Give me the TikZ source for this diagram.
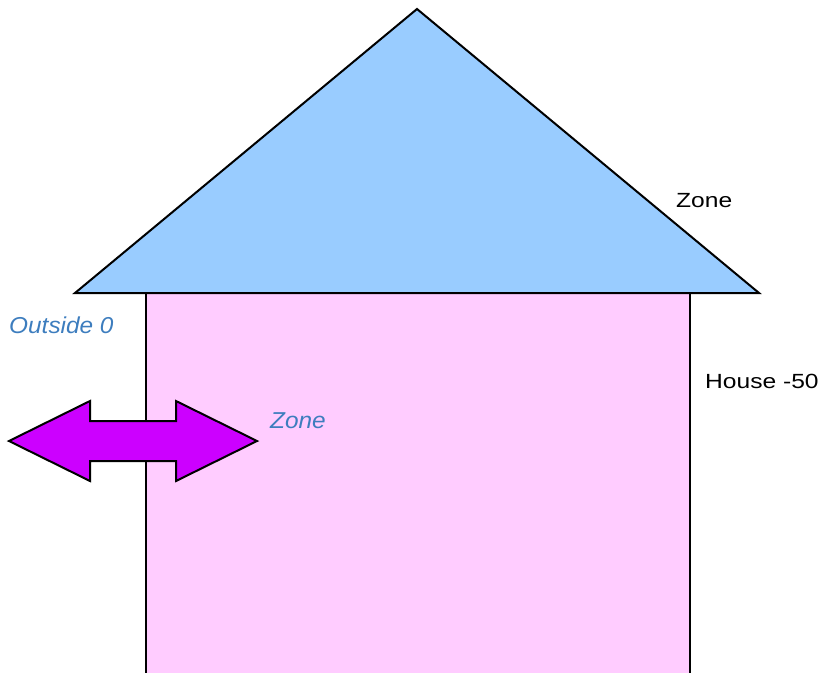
\documentclass[tikz,border=0pt]{standalone}
\usepackage{fontspec}
\setmainfont{Liberation Sans}
\definecolor{roofblue}{RGB}{153,204,255}
\definecolor{housepink}{RGB}{255,204,255}
\definecolor{arrowpurple}{RGB}{204,0,255}
\definecolor{labelblue}{RGB}{61,125,190}
\tikzset{
  shapeline/.style={draw=black, line width=2pt, line join=miter},
  plainlabel/.style={anchor=base west, inner sep=0pt, font=\fontsize{20.5pt}{24pt}\selectfont, text=black},
  bluelabel/.style={anchor=base west, inner sep=0pt, font=\fontsize{23pt}{27pt}\selectfont\itshape, text=labelblue}
}
\begin{document}
\begin{tikzpicture}[x=1pt,y=-1pt]
\useasboundingbox (0,0) rectangle (821,672);
\clip (0,0) rectangle (821,672);
% house body
\draw[shapeline, fill=housepink] (146,293) rectangle (690,674);
% roof
\draw[shapeline, fill=roofblue] (75,293) -- (417,9) -- (759,293) -- cycle;
% double arrow
\draw[shapeline, fill=arrowpurple] (9,441) -- (90,401) -- (90,421) -- (176,421) -- (176,401) -- (257,441) -- (176,481) -- (176,461) -- (90,461) -- (90,481) -- cycle;
% labels
\node[plainlabel] (roofzone) at (676,207) {\scalebox{1.2}[1]{Zone}};
\node[plainlabel] (house) at (705,388) {\scalebox{1.2}[1]{House -50}};
\node[bluelabel] (outside) at (9,333) {\scalebox{1.06}[1]{Outside 0}};
\node[bluelabel] (zone) at (270,428) {\scalebox{1.06}[1]{Zone}};
\end{tikzpicture}
\end{document}
